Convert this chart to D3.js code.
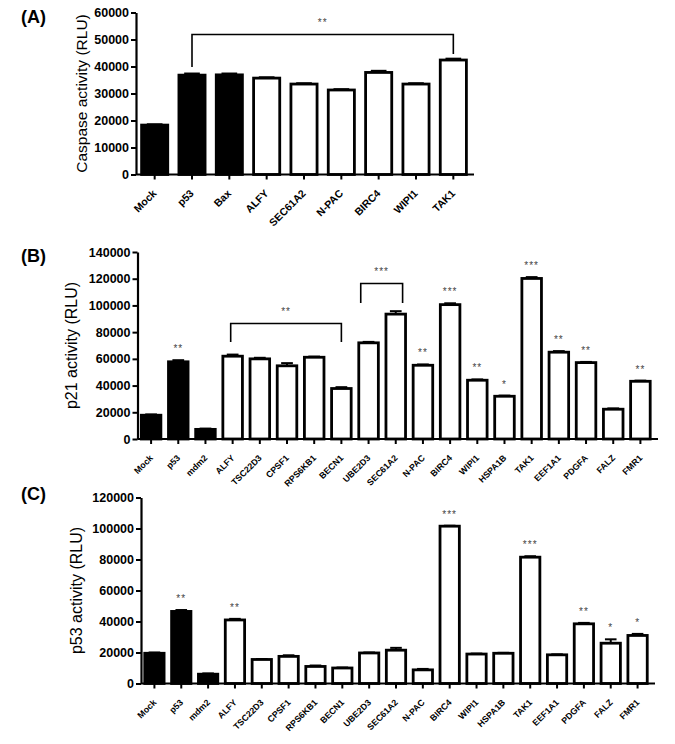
<!DOCTYPE html>
<html>
<head>
<meta charset="utf-8">
<script src="https://cdn.jsdelivr.net/npm/d3@7"></script>
<style>
  body { margin: 0; background: #fff; }
  svg { display: block; font-family: "Liberation Sans", Arial, sans-serif; }
</style>
</head>
<body>
<svg id="chart" width="675" height="744"></svg>
<script>
// panel A - caspase
const catsA = ['Mock', 'p53', 'Bax', 'ALFY', 'SEC61A2', 'N-PAC', 'BIRC4', 'WIPI1', 'TAK1'];
const valsA = [18300, 36800, 36900, 35700, 33500, 31300, 37800, 33500, 42400];
const errsA = [300, 600, 500, 300, 300, 300, 600, 300, 500];
const starsA = ['', '', '', '', '', '', '', '', ''];
const ticksA = [0, 10000, 20000, 30000, 40000, 50000, 60000];

// panel B - p21
const catsB = ['Mock', 'p53', 'mdm2', 'ALFY', 'TSC22D3', 'CPSF1', 'RPS6KB1', 'BECN1', 'UBE2D3', 'SEC61A2',
  'N-PAC', 'BIRC4', 'WIPI1', 'HSPA1B', 'TAK1', 'EEF1A1', 'PDGFA', 'FALZ', 'FMR1'];
const valsB = [17800, 57800, 7200, 62000, 60000, 54800, 61200, 37800, 72000, 93500,
  55200, 100600, 44000, 32000, 120200, 65000, 57200, 22300, 43200];
const errsB = [600, 1200, 600, 1200, 800, 2000, 500, 1000, 700, 2200,
  600, 1000, 600, 500, 1000, 800, 500, 600, 500];
const starsB = ['', '**', '', '', '', '', '', '', '', '',
  '**', '***', '**', '*', '***', '**', '**', '', '**'];
const ticksB = [0, 20000, 40000, 60000, 80000, 100000, 120000, 140000];

// panel C - p53
const catsC = catsB;
const valsC = [19500, 46500, 6000, 41000, 15500, 17500, 11000, 10000, 19700, 21500,
  8800, 101500, 19000, 19500, 81500, 18500, 38500, 26000, 31000];
const errsC = [500, 900, 500, 700, 300, 700, 600, 300, 300, 1500,
  600, 300, 300, 300, 600, 300, 600, 2500, 1000];
const starsC = ['', '**', '', '**', '', '', '', '', '', '',
  '', '***', '', '', '***', '', '**', '*', '*'];
const ticksC = [0, 20000, 40000, 60000, 80000, 100000, 120000];

const nFilled = 3;
const svg = d3.select('#chart');

function drawPanel(p) {
  const g = svg.append('g');

  const x = d3.scaleBand()
    .domain(p.cats)
    .range(p.xRange)
    .paddingInner(p.pad)
    .paddingOuter(p.pad / 2);

  const y = d3.scaleLinear()
    .domain([0, p.ticks[p.ticks.length - 1]])
    .range(p.yRange);

  const y0 = y(0);
  const bw = x.bandwidth();

  // bars
  g.selectAll('rect.bar')
    .data(p.cats)
    .enter().append('rect')
    .attr('class', 'bar')
    .attr('x', d => x(d))
    .attr('y', (d, i) => y(p.vals[i]))
    .attr('width', bw)
    .attr('height', (d, i) => y0 - y(p.vals[i]))
    .attr('fill', (d, i) => i < nFilled ? '#000' : '#fff')
    .attr('stroke', '#000')
    .attr('stroke-width', 2.8);

  // error bars
  const eb = g.selectAll('g.err')
    .data(p.cats)
    .enter().append('g')
    .attr('class', 'err');
  eb.append('line')
    .attr('x1', d => x(d) + bw / 2)
    .attr('x2', d => x(d) + bw / 2)
    .attr('y1', (d, i) => y(p.vals[i]))
    .attr('y2', (d, i) => y(p.vals[i] + p.errs[i]))
    .attr('stroke', '#000')
    .attr('stroke-width', 2);
  eb.append('line')
    .attr('x1', d => x(d) + bw * 0.2)
    .attr('x2', d => x(d) + bw * 0.8)
    .attr('y1', (d, i) => y(p.vals[i] + p.errs[i]))
    .attr('y2', (d, i) => y(p.vals[i] + p.errs[i]))
    .attr('stroke', '#000')
    .attr('stroke-width', 2);

  // significance stars
  g.selectAll('text.star')
    .data(p.cats)
    .enter().append('text')
    .attr('class', 'star')
    .attr('x', d => x(d) + bw / 2)
    .attr('y', (d, i) => y(p.vals[i] + p.errs[i]) - 8)
    .attr('text-anchor', 'middle')
    .attr('font-size', 10)
    .attr('letter-spacing', 1)
    .attr('fill', '#444')
    .text((d, i) => p.stars[i]);

  // y axis
  const yAxis = g.append('g')
    .attr('transform', `translate(${p.xRange[0]},0)`)
    .call(d3.axisLeft(y).tickValues(p.ticks).tickFormat(d3.format('d')).tickSize(5).tickPadding(2).tickSizeOuter(0));
  yAxis.select('.domain').attr('stroke-width', 2.2);
  yAxis.selectAll('.tick line').attr('stroke-width', 2);
  yAxis.selectAll('text')
    .attr('font-size', 12.5)
    .attr('font-weight', 'bold')
    .attr('font-family', '"Liberation Sans", Arial, sans-serif')
    .attr('fill', '#000');

  // x axis (labels drawn separately)
  const xAxis = g.append('g')
    .attr('transform', `translate(0,${y0})`)
    .call(d3.axisBottom(x).tickSize(5).tickSizeOuter(0).tickFormat(''));
  xAxis.select('.domain')
    .attr('d', `M${p.xRange[0]},0H${p.axisEnd}`)
    .attr('stroke-width', 2.2);
  xAxis.selectAll('.tick line').attr('stroke-width', 2);

  // category labels at -45 degrees, ending just under each tick
  g.selectAll('text.xlab')
    .data(p.cats)
    .enter().append('text')
    .attr('class', 'xlab')
    .attr('transform', d => `translate(${x(d) + bw / 2 + 2.5},${y0 + 19.5}) rotate(-45)`)
    .attr('text-anchor', 'end')
    .attr('font-size', p.labelSize)
    .attr('font-weight', 'bold')
    .text(d => d);

  // y axis title
  g.append('text')
    .attr('transform', `translate(${p.titleX},${(p.yRange[0] + p.yRange[1]) / 2}) rotate(-90)`)
    .attr('text-anchor', 'middle')
    .attr('font-size', p.titleSize)
    .text(p.title);

  // panel letter
  g.append('text')
    .attr('x', 21)
    .attr('y', p.letterY)
    .attr('font-size', 18)
    .attr('font-weight', 'bold')
    .text(p.letter);

  // brackets
  p.brackets.forEach(b => {
    const xa = x(b.from) + bw * b.fa;
    const xb = x(b.to) + bw * b.fb;
    g.append('path')
      .attr('d', `M${xa},${b.ya}V${b.top}H${xb}V${b.yb}`)
      .attr('fill', 'none')
      .attr('stroke', '#000')
      .attr('stroke-width', 1.6);
    g.append('text')
      .attr('x', (xa + xb) / 2)
      .attr('y', b.top - 9)
      .attr('text-anchor', 'middle')
      .attr('font-size', 10)
      .attr('letter-spacing', 1)
      .attr('fill', '#444')
      .text(b.label);
  });
}

drawPanel({
  cats: catsA, vals: valsA, errs: errsA, stars: starsA, ticks: ticksA,
  xRange: [136, 472], axisEnd: 474, yRange: [174.5, 12.5], pad: 0.3,
  labelSize: 10.5,
  title: 'Caspase activity (RLU)', titleX: 87, titleSize: 15.5, letter: '(A)', letterY: 23,
  brackets: [{ from: 'p53', to: 'TAK1', fa: 0.5, fb: 0.5, ya: 67, yb: 54, top: 34.5, label: '**' }]
});

drawPanel({
  cats: catsB, vals: valsB, errs: errsB, stars: starsB, ticks: ticksB,
  xRange: [137.5, 654], axisEnd: 658, yRange: [439, 252], pad: 0.28,
  labelSize: 8.8,
  title: 'p21 activity (RLU)', titleX: 77, titleSize: 16, letter: '(B)', letterY: 262,
  brackets: [
    { from: 'ALFY', to: 'BECN1', fa: 0.4, fb: 0.5, ya: 342, yb: 342, top: 323.5, label: '**' },
    { from: 'UBE2D3', to: 'SEC61A2', fa: 0.1, fb: 0.85, ya: 303, yb: 303, top: 283.5, label: '***' }
  ]
});

drawPanel({
  cats: catsC, vals: valsC, errs: errsC, stars: starsC, ticks: ticksC,
  xRange: [141, 651], axisEnd: 655, yRange: [683.5, 497.5], pad: 0.28,
  labelSize: 8.8,
  title: 'p53 activity (RLU)', titleX: 82, titleSize: 16, letter: '(C)', letterY: 500,
  brackets: []
});
</script>
</body>
</html>
